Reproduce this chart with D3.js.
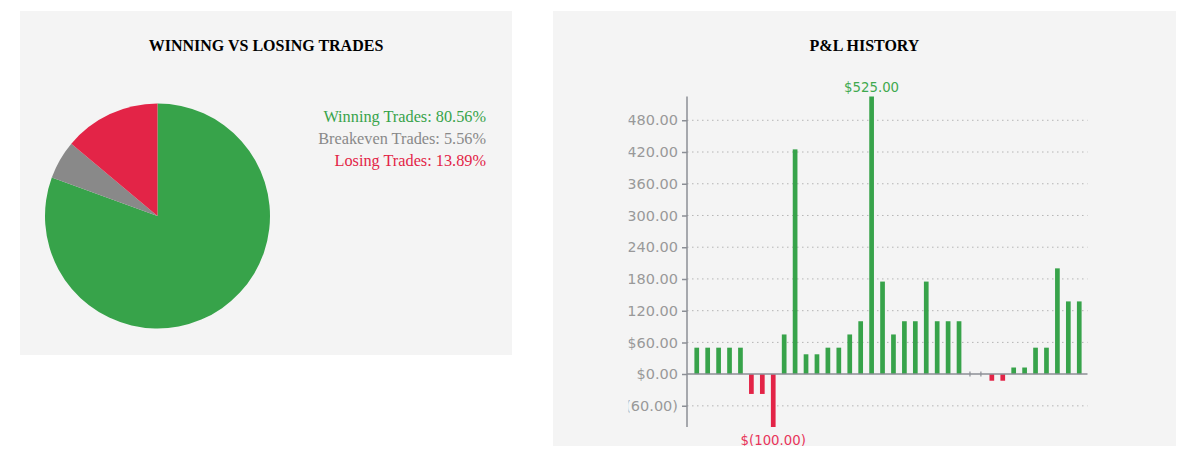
<!DOCTYPE html>
<html>
<head>
<meta charset="utf-8">
<script src="https://cdn.jsdelivr.net/npm/d3@7"></script>
<style>
  body { margin: 0; background: #fff; }
</style>
</head>
<body>
<div id="charts"></div>
<script>
// trade outcome breakdown
const tradeLabels = ["Winning Trades", "Breakeven Trades", "Losing Trades"];
const tradeCounts = [29, 2, 5];
const tradeColors = ["#37a34a", "#898989", "#e32447"];

// P&L per trade, in order
const pnlValues = [50, 50, 50, 50, 50, -37.5, -37.5, -100, 75, 425,
  37.5, 37.5, 50, 50, 75, 100, 525, 175, 75, 100,
  100, 175, 100, 100, 100, 0, 0, -12.5, -12.5, 12.5,
  12.5, 50, 50, 200, 137.5, 137.5];
const yTicks = [-60, 0, 60, 120, 180, 240, 300, 360, 420, 480];

const width = 1179;
const height = 456;
const serif = "'Liberation Serif', 'Times New Roman', serif";
const sans = "'DejaVu Sans', sans-serif";

const svg = d3.select("#charts")
  .append("svg")
  .attr("width", width)
  .attr("height", height);

const money = v => {
  const s = d3.format(",.2f")(Math.abs(v));
  return v < 0 ? "$(" + s + ")" : "$" + s;
};

// ---------- left panel: pie ----------
const left = { x: 20, y: 11, w: 492, h: 344 };

svg.append("rect")
  .attr("x", left.x).attr("y", left.y)
  .attr("width", left.w).attr("height", left.h)
  .attr("fill", "#f4f4f4");

svg.append("text")
  .attr("x", left.x + left.w / 2)
  .attr("y", 51)
  .attr("text-anchor", "middle")
  .attr("font-family", serif)
  .attr("font-weight", "bold")
  .attr("font-size", "16px")
  .attr("fill", "#000")
  .text("WINNING VS LOSING TRADES");

const total = d3.sum(tradeCounts);
const pieData = d3.pie().sort(null)(tradeCounts);
const arc = d3.arc().innerRadius(0).outerRadius(112.5);

svg.append("g")
  .attr("transform", "translate(157.5,216)")
  .selectAll("path")
  .data(pieData)
  .join("path")
  .attr("d", arc)
  .attr("fill", (d, i) => tradeColors[i]);

svg.append("g")
  .selectAll("text")
  .data(tradeLabels)
  .join("text")
  .attr("x", 486)
  .attr("y", (d, i) => 122 + i * 22)
  .attr("text-anchor", "end")
  .attr("font-family", serif)
  .attr("font-size", "16.3px")
  .attr("fill", (d, i) => tradeColors[i])
  .text((d, i) => d + ": " + (tradeCounts[i] / total * 100).toFixed(2) + "%");

// ---------- right panel: P&L bars ----------
const right = { x: 553, y: 11, w: 623, h: 435 };

svg.append("rect")
  .attr("x", right.x).attr("y", right.y)
  .attr("width", right.w).attr("height", right.h)
  .attr("fill", "#f4f4f4");

svg.append("text")
  .attr("x", right.x + right.w / 2)
  .attr("y", 51)
  .attr("text-anchor", "middle")
  .attr("font-family", serif)
  .attr("font-weight", "bold")
  .attr("font-size", "16px")
  .attr("fill", "#000")
  .text("P&L HISTORY");

// the plot area cuts off the left part of the wider tick labels
svg.append("clipPath")
  .attr("id", "plot-clip")
  .append("rect")
  .attr("x", 628.5).attr("y", right.y)
  .attr("width", right.x + right.w - 628.5)
  .attr("height", right.h);

const plot = svg.append("g").attr("clip-path", "url(#plot-clip)");

const x = d3.scaleBand()
  .domain(d3.range(pnlValues.length))
  .range([688, 1088])
  .paddingInner(0.57)
  .paddingOuter(0.585);

const y = d3.scaleLinear()
  .domain([-100, 525])
  .range([427, 96.5]);

// dotted grid
plot.append("g")
  .selectAll("line")
  .data(yTicks.filter(t => t !== 0))
  .join("line")
  .attr("x1", 687).attr("x2", 1087.5)
  .attr("y1", d => y(d)).attr("y2", d => y(d))
  .attr("stroke", "#b5b5b5")
  .attr("stroke-width", 1)
  .attr("stroke-dasharray", "1.5,3.5");

// y axis
const yAxis = plot.append("g")
  .attr("transform", "translate(687,0)")
  .call(d3.axisLeft(y).tickValues(yTicks).tickFormat(money).tickSize(5).tickPadding(4));

yAxis.select(".domain").remove();
yAxis.selectAll(".tick line").attr("stroke", "#8c8f96").attr("stroke-width", 1.5);
yAxis.selectAll(".tick text")
  .attr("fill", "#999")
  .attr("font-family", sans)
  .attr("font-size", "14.5px");

plot.append("line")
  .attr("x1", 687).attr("x2", 687)
  .attr("y1", y(525)).attr("y2", y(-100))
  .attr("stroke", "#8c8f96")
  .attr("stroke-width", 1.5);

// bars
const trades = pnlValues.map((v, i) => ({ v, i }));

plot.append("g")
  .selectAll("rect")
  .data(trades.filter(d => d.v !== 0))
  .join("rect")
  .attr("x", d => x(d.i))
  .attr("width", x.bandwidth())
  .attr("y", d => y(Math.max(0, d.v)))
  .attr("height", d => Math.abs(y(d.v) - y(0)))
  .attr("fill", d => d.v > 0 ? tradeColors[0] : tradeColors[2]);

// zero-value trades show as small ticks
plot.append("g")
  .selectAll("line")
  .data(trades.filter(d => d.v === 0))
  .join("line")
  .attr("x1", d => x(d.i) + x.bandwidth() / 2)
  .attr("x2", d => x(d.i) + x.bandwidth() / 2)
  .attr("y1", y(0) - 2.5)
  .attr("y2", y(0) + 2.5)
  .attr("stroke", "#8c8f96")
  .attr("stroke-width", 1.2);

// zero line
plot.append("line")
  .attr("x1", 687).attr("x2", 1087.5)
  .attr("y1", y(0)).attr("y2", y(0))
  .attr("stroke", "#8c8f96")
  .attr("stroke-width", 1.5);

// max / min labels
const maxI = d3.maxIndex(pnlValues);
const minI = d3.minIndex(pnlValues);

plot.append("text")
  .attr("x", x(maxI) + x.bandwidth() / 2)
  .attr("y", y(pnlValues[maxI]) - 4.5)
  .attr("text-anchor", "middle")
  .attr("font-family", sans)
  .attr("font-size", "13.3px")
  .attr("fill", "#3fa94e")
  .text(money(pnlValues[maxI]));

plot.append("text")
  .attr("x", x(minI) + x.bandwidth() / 2)
  .attr("y", y(pnlValues[minI]) + 17.5)
  .attr("text-anchor", "middle")
  .attr("font-family", sans)
  .attr("font-size", "13.3px")
  .attr("fill", "#e8345a")
  .text(money(pnlValues[minI]));
</script>
</body>
</html>
